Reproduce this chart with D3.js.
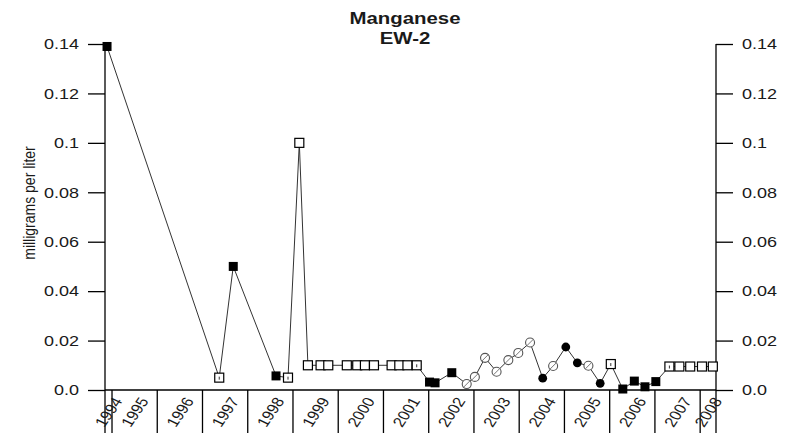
<!DOCTYPE html>
<html>
<head>
<meta charset="utf-8">
<script src="https://cdn.jsdelivr.net/npm/d3@7/dist/d3.min.js"></script>
<style>
  html, body { margin: 0; padding: 0; background: #fff; }
  svg { display: block; }
  text { font-family: "Liberation Sans", Arial, sans-serif; fill: #1a1a1a; }
</style>
</head>
<body>
<svg id="chart" width="792" height="443"></svg>
<script>
// ---- data (decimal year, mg/L, marker type) ----
const title = "Manganese";
const subtitle = "EW-2";
const yLabel = "milligrams per liter";
const dates = [1994.89, 1997.37, 1997.68, 1998.625, 1998.89, 1999.14, 1999.33, 1999.61, 1999.78,
  2000.19, 2000.42, 2000.59, 2000.79, 2001.18, 2001.35, 2001.53, 2001.735,
  2002.018, 2002.14, 2002.51, 2002.84, 2003.02, 2003.245, 2003.50, 2003.76, 2003.98, 2004.24,
  2004.52, 2004.75, 2005.03, 2005.285, 2005.53, 2005.79, 2006.025, 2006.29, 2006.545, 2006.78,
  2007.02, 2007.32, 2007.54, 2007.78, 2008.04, 2008.28];
const values = [0.139, 0.005, 0.05, 0.0057, 0.005, 0.1, 0.01, 0.01, 0.01,
  0.01, 0.01, 0.01, 0.01, 0.01, 0.01, 0.01, 0.01,
  0.0032, 0.0029, 0.0070, 0.0024, 0.0053, 0.0130, 0.0074, 0.0121, 0.0150, 0.0192,
  0.0048, 0.0097, 0.0174, 0.0110, 0.0098, 0.0027, 0.0105, 0.0004, 0.0036, 0.0013,
  0.0034, 0.0095, 0.0095, 0.0095, 0.0095, 0.0095];
// FS filled square, OS open square, OSD open square with dot, OC open circle (slashed), FC filled circle
const markers = ["FS", "OSD", "FS", "FS", "OSD", "OS", "OS", "OS", "OS",
  "OS", "OS", "OS", "OS", "OS", "OS", "OS", "OSD",
  "FS", "FS", "FS", "OC", "OC", "OC", "OC", "OC", "OC", "OC",
  "FC", "OC", "FC", "FC", "OC", "FC", "OSD", "FS", "FS", "FS",
  "FS", "OSD", "OS", "OS", "OS", "OS"];
const yTicks = [0, 0.02, 0.04, 0.06, 0.08, 0.1, 0.12, 0.14];
const yTickLabels = ["0.0", "0.02", "0.04", "0.06", "0.08", "0.1", "0.12", "0.14"];
const years = [1994, 1995, 1996, 1997, 1998, 1999, 2000, 2001, 2002, 2003, 2004, 2005, 2006, 2007, 2008];
const xDomain = [1994.845, 2008.35];
const yDomain = [0, 0.14];

// ---- layout ----
const L = 105, R = 716, T = 44, B = 390, TB = 433;
const SX = 1.2; // horizontal text stretch seen in the reference
const svg = d3.select("#chart");
const x = d3.scaleLinear().domain(xDomain).range([L, R]);
const y = d3.scaleLinear().domain(yDomain).range([B, T]);

// titles
svg.append("text").attr("transform", `translate(405,24) scale(${SX},1)`)
  .attr("text-anchor", "middle").attr("font-size", 17).attr("font-weight", "bold").text(title);
svg.append("text").attr("transform", `translate(405,44) scale(${SX},1)`)
  .attr("text-anchor", "middle").attr("font-size", 17).attr("font-weight", "bold").text(subtitle);

// y label
svg.append("text").attr("transform", `translate(35,${(T + B) / 2 - 14}) scale(${SX},1) rotate(-90)`)
  .attr("text-anchor", "middle").attr("font-size", 14).text(yLabel);

const axisG = svg.append("g").attr("stroke", "#000").attr("stroke-width", 1.3).attr("fill", "none");

// left axis
const leftAxis = d3.axisLeft(y).tickValues(yTicks).tickSize(17).tickPadding(9)
  .tickFormat((d, i) => yTickLabels[i]);
const gl = svg.append("g").attr("transform", `translate(${L},0)`).call(leftAxis);
gl.select(".domain").remove();
gl.selectAll(".tick line").attr("stroke", "#000").attr("stroke-width", 1.3);
gl.selectAll(".tick text").attr("font-size", 15).attr("font-family", "Liberation Sans, Arial, sans-serif")
  .attr("fill", "#1a1a1a")
  .each(function () {
    const t = d3.select(this);
    const xx = +t.attr("x");
    t.attr("x", null).attr("transform", `translate(${xx},0) scale(${SX},1)`);
  });

// right axis
const rightAxis = d3.axisRight(y).tickValues(yTicks).tickSize(17).tickPadding(9)
  .tickFormat((d, i) => yTickLabels[i]);
const gr = svg.append("g").attr("transform", `translate(${R},0)`).call(rightAxis);
gr.select(".domain").remove();
gr.selectAll(".tick line").attr("stroke", "#000").attr("stroke-width", 1.3);
gr.selectAll(".tick text").attr("font-size", 15).attr("font-family", "Liberation Sans, Arial, sans-serif")
  .attr("fill", "#1a1a1a")
  .each(function () {
    const t = d3.select(this);
    const xx = +t.attr("x");
    t.attr("x", null).attr("text-anchor", "start").attr("transform", `translate(${xx},0) scale(${SX},1)`);
  });

// axis lines
axisG.append("line").attr("x1", L).attr("x2", L).attr("y1", y(0.14)).attr("y2", TB);
axisG.append("line").attr("x1", R).attr("x2", R).attr("y1", y(0.14)).attr("y2", TB);
axisG.append("line").attr("x1", L).attr("x2", R).attr("y1", B).attr("y2", B);

// year separators and labels
years.forEach(yr => {
  if (yr > xDomain[0] && yr < xDomain[1]) {
    axisG.append("line").attr("x1", x(yr)).attr("x2", x(yr)).attr("y1", B).attr("y2", TB);
  }
  const a = Math.max(yr, xDomain[0]), b = Math.min(yr + 1, xDomain[1]);
  const cx = (x(a) + x(b)) / 2;
  svg.append("text")
    .attr("transform", `translate(${cx},412) scale(${SX},1) rotate(-60)`)
    .attr("text-anchor", "middle").attr("dominant-baseline", "central")
    .attr("font-size", 14).text(yr);
});

// data line
const pts = dates.map((d, i) => ({ d, v: values[i], m: markers[i] }));
svg.append("path").datum(pts)
  .attr("fill", "none").attr("stroke", "#333").attr("stroke-width", 1)
  .attr("d", d3.line().x(p => x(p.d)).y(p => y(p.v)));

// markers
const mg = svg.append("g");
pts.forEach(p => {
  const cx = x(p.d), cy = y(p.v);
  if (p.m === "FS") {
    mg.append("rect").attr("x", cx - 4.5).attr("y", cy - 4.5).attr("width", 9).attr("height", 9)
      .attr("fill", "#000");
  } else if (p.m === "OS" || p.m === "OSD") {
    mg.append("rect").attr("x", cx - 4.5).attr("y", cy - 4.5).attr("width", 9).attr("height", 9)
      .attr("fill", "#fff").attr("stroke", "#000").attr("stroke-width", 1.2);
    if (p.m === "OSD") {
      mg.append("line").attr("x1", cx).attr("x2", cx).attr("y1", cy - 1).attr("y2", cy + 2)
        .attr("stroke", "#333").attr("stroke-width", 1);
    }
  } else if (p.m === "OC") {
    mg.append("circle").attr("cx", cx).attr("cy", cy).attr("r", 4.5)
      .attr("fill", "#fff").attr("stroke", "#555").attr("stroke-width", 1.1);
    mg.append("line").attr("x1", cx - 3.2).attr("y1", cy + 3.2).attr("x2", cx + 3.2).attr("y2", cy - 3.2)
      .attr("stroke", "#777").attr("stroke-width", 1);
  } else if (p.m === "FC") {
    mg.append("circle").attr("cx", cx).attr("cy", cy).attr("r", 4.4).attr("fill", "#000");
  }
});
</script>
</body>
</html>
